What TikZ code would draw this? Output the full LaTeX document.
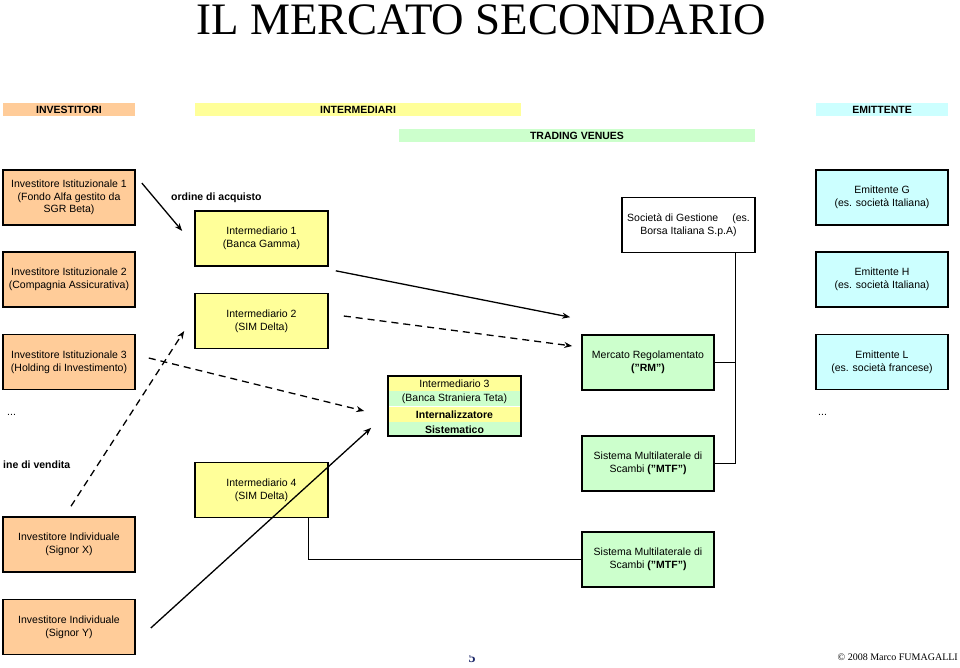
\documentclass[tikz,border=0pt]{standalone}
\usepackage{fontspec}
\setmainfont{Liberation Sans}
\newfontfamily\titlefont{Liberation Serif}
\usepackage{tikz}
\usetikzlibrary{positioning,arrows.meta}
\definecolor{invcol}{HTML}{FFCC99}
\definecolor{intcol}{HTML}{FFFF99}
\definecolor{tvcol}{HTML}{CCFFCC}
\definecolor{emicol}{HTML}{CCFFFF}
\definecolor{pagecol}{HTML}{1F2A6B}

\begin{document}
\begin{tikzpicture}[x=1pt,y=-1pt,>={Stealth[length=8pt,width=6pt]},
  every node/.style={font=\fontsize{10.5}{12.6}\selectfont},
  box/.style={draw,line width=1.6pt,minimum width=132pt,minimum height=55pt,align=center,inner sep=1pt},
  bar/.style={minimum height=13pt,inner sep=0pt,font=\fontsize{10.5}{12.6}\selectfont\bfseries},
  band/.style={minimum width=133pt,minimum height=15pt,inner sep=0pt},
  lbl/.style={anchor=west,inner sep=0pt},
  flow/.style={->,line width=1.3pt},
  dflow/.style={flow,dash pattern=on 7pt off 5pt},
  tree/.style={line width=0.8pt}]
\useasboundingbox (0,0) rectangle (960,667);
\node[anchor=base,inner sep=0pt,text height=30pt,text depth=0pt,font=\titlefont\fontsize{45}{50}\selectfont] (title) at (481,34) {IL MERCATO SECONDARIO};
% column headers
\node[bar,fill=invcol,minimum width=132pt] (hinv) at (69,109.5) {INVESTITORI};
\node[bar,fill=intcol,minimum width=326pt] (hint) at (358,109.5) {INTERMEDIARI};
\node[bar,fill=tvcol,minimum width=356pt] (htv) at (577,135.5) {TRADING VENUES};
\node[bar,fill=emicol,minimum width=132pt] (hemi) at (882,109.5) {EMITTENTE};
% investitori
\node[box,fill=invcol] (inv1) at (69,197.5) {Investitore Istituzionale 1\\(Fondo Alfa gestito da\\SGR Beta)};
\node[box,fill=invcol] (inv2) at (69,279.5) {Investitore Istituzionale 2\\(Compagnia Assicurativa)};
\node[box,fill=invcol] (inv3) at (69,362) {Investitore Istituzionale 3\\(Holding di Investimento)};
\node[box,fill=invcol] (invx) at (69,544.5) {Investitore Individuale\\(Signor X)};
\node[box,fill=invcol] (invy) at (69,627) {Investitore Individuale\\(Signor Y)};
\node[lbl] (dotsl) at (7,415) {...};
\node[lbl,font=\fontsize{10.5}{12.6}\selectfont\bfseries] (vend) at (3,465) {ine di vendita};
% intermediari
\node[box,fill=intcol,minimum width=133pt] (int1) at (261.5,238.5) {Intermediario 1\\(Banca Gamma)};
\node[box,fill=intcol,minimum width=133pt] (int2) at (261.5,321) {Intermediario 2\\(SIM Delta)};
\node[box,fill=intcol,minimum width=133pt] (int4) at (261.5,490) {Intermediario 4\\(SIM Delta)};
\node[lbl,font=\fontsize{10.5}{12.6}\selectfont\bfseries] (acq) at (171,198) {ordine di acquisto};
\node[band,fill=intcol] (i3a) at (454.5,383.5) {Intermediario 3};
\node[band,fill=tvcol,below=0pt of i3a] (i3b) {(Banca Straniera Teta)};
\node[band,fill=intcol,below=0pt of i3b,font=\fontsize{10.5}{12.6}\selectfont\bfseries] (i3c) {Internalizzatore};
\node[band,fill=tvcol,below=0pt of i3c,font=\fontsize{10.5}{12.6}\selectfont\bfseries] (i3d) {Sistematico};
\node[draw,line width=1.6pt,minimum width=133pt,minimum height=60pt,inner sep=0pt] (int3) at (454.5,406) {};
% trading venues
\node[box,minimum width=133pt] (socg) at (688.5,225) {Società di Gestione\hspace{14pt}(es.\\Borsa Italiana S.p.A)};
\node[box,fill=tvcol] (rm) at (648,362.5) {Mercato Regolamentato\\\textbf{("RM")}};
\node[box,fill=tvcol] (mtf1) at (648,463.5) {Sistema Multilaterale di\\Scambi \textbf{("MTF")}};
\node[box,fill=tvcol] (mtf2) at (648,559.5) {Sistema Multilaterale di\\Scambi \textbf{("MTF")}};
% emittenti
\node[box,fill=emicol] (emig) at (882,197.5) {Emittente G\\(es. società Italiana)};
\node[box,fill=emicol] (emih) at (882,279.5) {Emittente H\\(es. società Italiana)};
\node[box,fill=emicol] (emil) at (882,362) {Emittente L\\(es. società francese)};
\node[lbl] (dotsr) at (818,415) {...};
% ordini
\draw[flow] ([shift={(6,-14.5)}]inv1.east) -- ([shift={(-12,-7.5)}]int1.west);
\draw[flow] ([shift={(7,4)}]int1.south east) -- ([shift={(-11,-17)}]rm.north west);
\draw[dflow] ([shift={(15,-5)}]int2.east) -- ([shift={(-9,-16.5)}]rm.west);
\draw[dflow] ([shift={(13,-4)}]inv3.east) -- ([shift={(-23,5)}]int3.west);
\draw[dflow] ([shift={(2,-10)}]invx.north) -- ([shift={(-10,10)}]int2.west);
\draw[flow] ([shift={(15,1)}]invy.east) -- ([shift={(-16,-9)}]int3.south west);
% gestione dei mercati
\coordinate (trunk) at ([xshift=46.5pt]socg.south);
\draw[tree] (trunk) |- (mtf1.east);
\draw[tree] (rm.east) -- (rm.east -| trunk);
\draw[tree] ([xshift=46.5pt]int4.south) |- (mtf2.west);
% footer
\node[anchor=east,inner sep=0pt,font=\titlefont\fontsize{10}{12}\selectfont] (copy) at (958,657) {© 2008 Marco FUMAGALLI};
\begin{scope}
\clip (455,655.5) rectangle (490,667);
\node[anchor=base,inner sep=0pt,text=pagecol,font=\titlefont\bfseries\fontsize{14}{14}\selectfont] (pnum) at (472,662) {5};
\end{scope}
\end{tikzpicture}
\end{document}
